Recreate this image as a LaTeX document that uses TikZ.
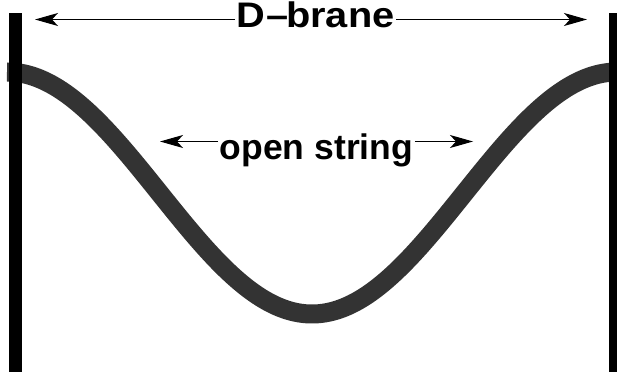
\documentclass[tikz,border=0pt]{standalone}
\usepackage{fontspec}
\setmainfont{Liberation Sans}
\usetikzlibrary{arrows.meta}
\begin{document}
\begin{tikzpicture}[x=1pt,y=-1pt,
  bar/.style={fill=black},
  stringline/.style={line width=19pt, draw=black!80, line cap=butt},
  lab/.style={font=\bfseries\fontsize{35.5}{35.5}\selectfont, inner sep=1.5pt},
  arr/.style={-{Stealth[length=23pt,width=13pt,inset=6pt]}, line width=1.1pt}]
\useasboundingbox (0,0) rectangle (617,374);
\draw[stringline] plot[domain=7:617, samples=300, smooth] (\x, {193-121*cos(0.590164*(\x-7))});
\fill[bar] (9.3,13.3) rectangle (21.7,372);
\fill[bar] (608.7,13.3) rectangle (621,372);
\node[lab, anchor=base, xscale=1.12] (db) at (315.5,27.5) {D\kern1pt–\kern-2pt brane};
\node[lab, anchor=base] (os) at (316.5,159) {open string};
\coordinate (dl) at (35,19.5);
\coordinate (dr) at (587,19.5);
\coordinate (ol) at (160,141.5);
\coordinate (or) at (473,141.5);
\draw[arr] (db.west |- dl) -- (dl);
\draw[arr] (db.east |- dr) -- (dr);
\draw[arr] (os.west |- ol) -- (ol);
\draw[arr] (os.east |- or) -- (or);
\end{tikzpicture}
\end{document}
